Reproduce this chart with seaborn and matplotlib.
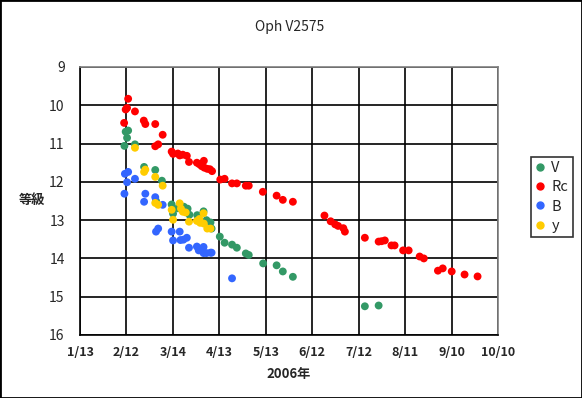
import numpy as np
import pandas as pd
import seaborn as sns
import matplotlib.pyplot as plt
from matplotlib.patches import Rectangle

# days counted from 2006-01-13, magnitudes
v_day = [28.7, 29.5, 31.1, 30.4, 35.5, 41.4, 48.6, 49.1, 52.9, 59.2, 60.1, 63.2,
         67.1, 69.5, 70.7, 75.7, 79.8, 81.7, 84.3, 85.0, 90.3, 93.4, 98.2, 101.3,
         107.1, 109.0, 118.3, 127.0, 131.0, 137.5, 184.0, 192.9]
v_mag = [11.06, 10.69, 10.66, 10.85, 11.02, 11.61, 11.69, 12.50, 11.97, 12.59, 12.83, 12.69,
         12.65, 12.70, 12.86, 12.87, 12.77, 13.00, 13.06, 13.22, 13.43, 13.59, 13.64, 13.72,
         13.87, 13.91, 14.13, 14.18, 14.34, 14.48, 15.25, 15.23]

rc_day = [28.5, 29.5, 30.4, 31.1, 35.5, 41.2, 42.2, 48.6, 48.6, 50.5, 53.4, 59.2,
          60.1, 63.2, 64.4, 66.4, 69.0, 70.4, 75.5, 77.1, 78.6, 80.0, 80.3, 82.2,
          83.9, 85.3, 90.6, 93.4, 98.2, 101.3, 107.1, 109.0, 118.1, 127.0, 131.0,
          137.5, 157.9, 161.9, 164.8, 166.7, 170.1, 171.1, 184.0, 192.9, 194.8,
          196.9, 201.2, 203.2, 208.7, 212.3, 219.4, 222.1, 231.2, 234.3, 240.1,
          248.4, 256.8]
rc_mag = [10.46, 10.11, 10.07, 9.83, 10.16, 10.40, 10.49, 10.49, 11.07, 11.02, 10.77, 11.21,
          11.27, 11.26, 11.31, 11.29, 11.32, 11.48, 11.50, 11.54, 11.59, 11.45, 11.63, 11.66,
          11.67, 11.72, 11.94, 11.92, 12.04, 12.04, 12.10, 12.10, 12.26, 12.36, 12.47,
          12.52, 12.88, 13.03, 13.11, 13.15, 13.21, 13.30, 13.46, 13.56, 13.55,
          13.53, 13.66, 13.66, 13.79, 13.79, 13.95, 14.00, 14.32, 14.26, 14.34,
          14.42, 14.47]

b_day = [28.7, 29.0, 31.1, 30.4, 35.5, 41.4, 42.2, 48.6, 49.1, 50.5, 53.4, 59.2,
         60.1, 64.4, 64.9, 66.8, 69.0, 70.4, 75.5, 76.7, 79.8, 79.8, 81.7, 84.3,
         85.0, 98.2]
b_mag = [12.31, 11.79, 11.74, 12.01, 11.92, 12.52, 12.31, 12.40, 13.30, 13.22, 12.60, 13.30,
         13.53, 13.30, 13.52, 13.51, 13.46, 13.72, 13.69, 13.79, 13.70, 13.86, 13.86, 13.85,
         13.85, 14.52]

y_day = [35.5, 41.4, 42.2, 48.6, 48.6, 50.5, 53.4, 59.2, 60.1, 64.4, 65.2, 66.4,
         68.3, 70.4, 75.5, 77.1, 77.6, 79.8, 80.0, 82.2, 84.3]
y_mag = [11.11, 11.74, 11.68, 11.87, 12.55, 12.60, 12.10, 12.73, 12.99, 12.56, 12.70, 12.78,
         12.80, 13.04, 13.02, 12.97, 13.07, 12.82, 13.09, 13.22, 13.22]

tick_days = [0, 30, 60, 90, 120, 150, 180, 210, 240, 270]
tick_labels = ['1/13', '2/12', '3/14', '4/13', '5/13', '6/12', '7/12', '8/11', '9/10', '10/10']
bands = ['V', 'Rc', 'B', 'y']
colors = ['#339966', '#FF0000', '#3366FF', '#FFCC00']

df = pd.concat([
    pd.DataFrame({'day': v_day, 'mag': v_mag, 'band': 'V'}),
    pd.DataFrame({'day': rc_day, 'mag': rc_mag, 'band': 'Rc'}),
    pd.DataFrame({'day': b_day, 'mag': b_mag, 'band': 'B'}),
    pd.DataFrame({'day': y_day, 'mag': y_mag, 'band': 'y'}),
], ignore_index=True)

sns.set_style("white")
plt.rcParams['font.family'] = ['Noto Sans CJK JP', 'DejaVu Sans']

fig = plt.figure(figsize=(5.82, 3.98), dpi=100)
ax = fig.add_axes([80 / 582, 1 - 335 / 398, 418 / 582, 268 / 398])

sns.scatterplot(data=df, x='day', y='mag', hue='band', hue_order=bands,
                palette=colors, s=32, linewidth=0, ax=ax, legend=False, zorder=3)

ax.set_xlim(0, 270)
ax.set_ylim(16, 9)
ax.set_xticks(tick_days)
ax.set_xticklabels(tick_labels, fontsize=9, fontweight='bold')
ax.set_yticks(range(9, 17))
ax.tick_params(axis='y', labelsize=10, length=0, pad=11)
ax.tick_params(axis='x', length=0, pad=8)
ax.grid(True, color='black', lw=1.2)
for side in ['left', 'bottom']:
    ax.spines[side].set_color('black')
    ax.spines[side].set_linewidth(1.2)
for side in ['top', 'right']:
    ax.spines[side].set_color('#808080')
    ax.spines[side].set_linewidth(1.2)

ax.set_xlabel('2006年', fontsize=9.5, fontweight='bold', labelpad=6)
ax.set_ylabel('等級', fontsize=9.5, fontweight='bold', rotation=0, va='center', ha='center')
ax.yaxis.set_label_coords(-48 / 418, 135 / 268)
fig.text(290 / 582, 1 - 27 / 398, 'Oph V2575', fontsize=10, ha='center', va='center')

handles = [plt.Line2D([], [], ls='', marker='o', ms=5, mfc=c, mec=c) for c in colors]
leg = fig.legend(handles, bands, loc='upper left',
                 bbox_to_anchor=(531 / 582, 1 - 157 / 398), frameon=True,
                 fontsize=10.5, handlelength=0.6, handletextpad=0.5,
                 borderpad=0.3, labelspacing=0.35, borderaxespad=0, fancybox=False)
leg.get_frame().set_edgecolor('black')
leg.get_frame().set_linewidth(1.2)

fig.patches.append(Rectangle((0, 0), 1, 1, transform=fig.transFigure,
                             fill=False, edgecolor='black', lw=2))

fig.savefig('out.png', dpi=100)
